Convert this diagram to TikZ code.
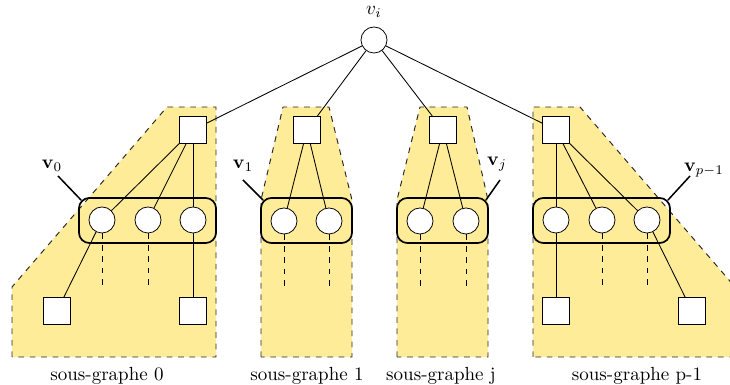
\documentclass[tikz,border=0pt]{standalone}
\usetikzlibrary{calc}
\definecolor{sgfill}{RGB}{255,236,152}
\begin{document}
\begin{tikzpicture}[x=0.526pt,y=-0.526pt,
  sg/.style={fill=sgfill,draw=black!85,dashed,line width=0.5pt},
  vx/.style={circle,draw,fill=white,inner sep=0pt,minimum size=13.7pt},
  sq/.style={rectangle,draw,fill=white,inner sep=0pt,minimum size=14.2pt},
  grp/.style={rectangle,draw,rounded corners=5.5pt,line width=0.9pt,inner sep=0pt,minimum height=23.7pt},
  edge/.style={line width=0.45pt},
  dedge/.style={line width=0.5pt,dashed},
  lead/.style={line width=0.8pt},
  txt/.style={inner sep=0pt}]
\useasboundingbox (0,0) rectangle (730,385);
% subgraph regions
\path[sg] (12,357) -- (12,287) -- (167,107) -- (216,107) -- (216,357) -- cycle;
\path[sg] (261,357) -- (261,200) -- (283,107) -- (329,107) -- (352,200) -- (352,357) -- cycle;
\path[sg] (397,357) -- (397,200) -- (420,107) -- (467,107) -- (488,200) -- (488,357) -- cycle;
\path[sg] (533,357) -- (533,107) -- (580,107) -- (735,287) -- (735,357) -- cycle;
% group boxes
\node[grp,minimum width=72.1pt] (g0) at (147.5,220.5) {};
\node[grp,minimum width=47.9pt] (g1) at (306.5,220.5) {};
\node[grp,minimum width=47.9pt] (gj) at (442.5,220.5) {};
\node[grp,minimum width=72.1pt] (gp) at (601.5,220.5) {};
% root
\node[vx] (vi) at (374,40) {};
\node[txt] (lvi) at (374,12) {$v_i$};
% top squares
\node[sq] (s0) at (193,130) {};
\node[sq] (s1) at (307,130) {};
\node[sq] (sj) at (443,130) {};
\node[sq] (sp) at (556,130) {};
% circles
\node[vx] (c01) at (102,220) {};
\node[vx] (c02) at (148,220) {};
\node[vx] (c03) at (193,220) {};
\node[vx] (c11) at (284,221) {};
\node[vx] (c12) at (329,221) {};
\node[vx] (cj1) at (420,221) {};
\node[vx] (cj2) at (466,221) {};
\node[vx] (cp1) at (556,220) {};
\node[vx] (cp2) at (602,220) {};
\node[vx] (cp3) at (647,220) {};
% bottom squares
\node[sq] (b01) at (57,311) {};
\node[sq] (b02) at (193,311) {};
\node[sq] (bp1) at (556,311) {};
\node[sq] (bp2) at (692,311) {};
% dashed ends
\coordinate (d01) at (102,287);
\coordinate (d02) at (148,287);
\coordinate (d11) at (284,287);
\coordinate (d12) at (329,287);
\coordinate (dj1) at (420,287);
\coordinate (dj2) at (466,287);
\coordinate (dp2) at (602,287);
\coordinate (dp3) at (647,287);
% edges from root
\draw[edge] (vi) -- (s0);
\draw[edge] (vi) -- (s1);
\draw[edge] (vi) -- (sj);
\draw[edge] (vi) -- (sp);
% square to circles
\draw[edge] (s0) -- (c01);
\draw[edge] (s0) -- (c02);
\draw[edge] (s0) -- (c03);
\draw[edge] (s1) -- (c11);
\draw[edge] (s1) -- (c12);
\draw[edge] (sj) -- (cj1);
\draw[edge] (sj) -- (cj2);
\draw[edge] (sp) -- (cp1);
\draw[edge] (sp) -- (cp2);
\draw[edge] (sp) -- (cp3);
% circles to bottom squares
\draw[edge] (c01) -- (b01);
\draw[edge] (c03) -- (b02);
\draw[edge] (cp1) -- (bp1);
\draw[edge] (cp3) -- (bp2);
% dashed continuation
\draw[dedge] (c01) -- (d01);
\draw[dedge] (c02) -- (d02);
\draw[dedge] (c11) -- (d11);
\draw[dedge] (c12) -- (d12);
\draw[dedge] (cj1) -- (dj1);
\draw[dedge] (cj2) -- (dj2);
\draw[dedge] (cp2) -- (dp2);
\draw[dedge] (cp3) -- (dp3);
% group labels with leaders
\coordinate (l0) at (58,176);
\coordinate (l1) at (243,180);
\coordinate (lj) at (500,180);
\coordinate (lp) at (690,176);
\node[txt] (t0) at (52,166) {$\mathbf{v}_0$};
\node[txt] (t1) at (243,166) {$\mathbf{v}_1$};
\node[txt] (tj) at (497,164) {$\mathbf{v}_j$};
\node[txt] (tp) at (704,170) {$\mathbf{v}_{p-1}$};
\draw[lead] (l0) -- ($(g0.north west)+(3,3)$);
\draw[lead] (l1) -- ($(g1.north west)+(3,3)$);
\draw[lead] (lj) -- ($(gj.north east)+(-3,3)$);
\draw[lead] (lp) -- ($(gp.north east)+(-3,3)$);
% captions
\node[txt] (k0) at (107,376) {sous-graphe 0};
\node[txt] (k1) at (307,376) {sous-graphe 1};
\node[txt] (kj) at (441,376) {sous-graphe j};
\node[txt] (kp) at (637,376) {sous-graphe p-1};
\end{tikzpicture}
\end{document}
